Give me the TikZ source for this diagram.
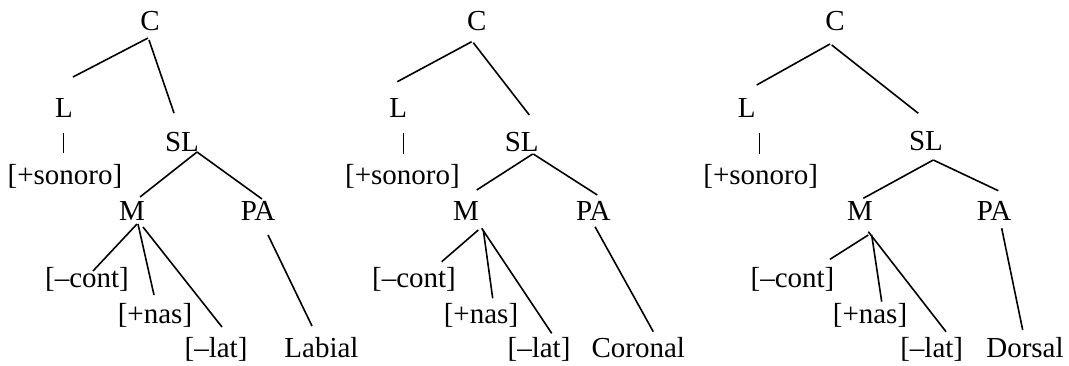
\documentclass[tikz,border=0pt]{standalone}
\usepackage{fontspec}
\setmainfont{Liberation Serif}
\begin{document}
\begin{tikzpicture}[x=1pt,y=-1pt,
  lbl/.style={anchor=base,inner sep=0pt,font=\fontsize{29}{32}\selectfont},
  edge/.style={line width=1.6pt},
  bar/.style={line width=1.0pt}]
\useasboundingbox (0,0) rectangle (1069,365);
% ---------- tree 1 ----------
\node[lbl] (C1) at (150,30) {C};
\node[lbl] (L1) at (64,117) {L};
\node[lbl] (SL1) at (182,151) {SL};
\node[lbl] (S1) at (65,184) {[+sonoro]};
\node[lbl] (M1) at (132,220) {M};
\node[lbl] (PA1) at (258,220) {PA};
\node[lbl] (K1) at (87,287) {[–cont]};
\node[lbl] (N1) at (155,323) {[+nas]};
\node[lbl] (T1) at (216,357) {[–lat]};
\node[lbl] (P1) at (321.5,357) {Labial};
\draw[edge] ([shift={(-2,8)}]C1.base) -- ([shift={(9,-40)}]L1.base);
\draw[edge] ([shift={(-1,10)}]C1.base) -- ([shift={(-8,-38)}]SL1.base);
\draw[bar] ([shift={(-1,16)}]L1.base) -- ([shift={(-2,-31)}]S1.base);
\draw[edge] ([shift={(15,1)}]SL1.base) -- ([shift={(8,-23)}]M1.base);
\draw[edge] ([shift={(15,1)}]SL1.base) -- ([shift={(4,-21)}]PA1.base);
\draw[edge] ([shift={(5,4)}]M1.base) -- ([shift={(6,-16)}]K1.base);
\draw[edge] ([shift={(6,4)}]M1.base) -- ([shift={(-1,-28)}]N1.base);
\draw[edge] ([shift={(11,7)}]M1.base) -- ([shift={(6,-30)}]T1.base);
\draw[edge] ([shift={(10,15)}]PA1.base) -- ([shift={(-9.5,-31)}]P1.base);
% ---------- tree 2 ----------
\node[lbl] (C2) at (476.7,30) {C};
\node[lbl] (L2) at (398.3,117) {L};
\node[lbl] (SL2) at (521.7,151) {SL};
\node[lbl] (S2) at (402.5,184) {[+sonoro]};
\node[lbl] (M2) at (466,220) {M};
\node[lbl] (PA2) at (593.3,220) {PA};
\node[lbl] (K2) at (414,287) {[–cont]};
\node[lbl] (N2) at (481,323) {[+nas]};
\node[lbl] (T2) at (539,357) {[–lat]};
\node[lbl] (P2) at (638.3,357) {Coronal};
\draw[edge] ([shift={(-5,11.7)}]C2.base) -- ([shift={(-1,-35.3)}]L2.base);
\draw[edge] ([shift={(-3.4,12.7)}]C2.base) -- ([shift={(7.6,-36)}]SL2.base);
\draw[bar] ([shift={(5,16)}]L2.base) -- ([shift={(0.8,-30)}]S2.base);
\draw[edge] ([shift={(11,3)}]SL2.base) -- ([shift={(10.7,-30)}]M2.base);
\draw[edge] ([shift={(11.6,3)}]SL2.base) -- ([shift={(4,-25)}]PA2.base);
\draw[edge] ([shift={(12.3,10)}]M2.base) -- ([shift={(27.7,-25.3)}]K2.base);
\draw[edge] ([shift={(17.3,10)}]M2.base) -- ([shift={(11.7,-24.7)}]N2.base);
\draw[edge] ([shift={(15.7,8.3)}]M2.base) -- ([shift={(12.7,-23.7)}]T2.base);
\draw[edge] ([shift={(1.7,6.7)}]PA2.base) -- ([shift={(15,-25.3)}]P2.base);
% ---------- tree 3 ----------
\node[lbl] (C3) at (835,30) {C};
\node[lbl] (L3) at (746.7,117) {L};
\node[lbl] (SL3) at (926,150) {SL};
\node[lbl] (S3) at (760.7,184) {[+sonoro]};
\node[lbl] (M3) at (860,220) {M};
\node[lbl] (PA3) at (994,220) {PA};
\node[lbl] (K3) at (792.5,287) {[–cont]};
\node[lbl] (N3) at (870,323) {[+nas]};
\node[lbl] (T3) at (931.7,357) {[–lat]};
\node[lbl] (P3) at (1025,357) {Dorsal};
\draw[edge] ([shift={(-5,14)}]C3.base) -- ([shift={(10,-32)}]L3.base);
\draw[edge] ([shift={(-3.3,15)}]C3.base) -- ([shift={(-7.7,-36.7)}]SL3.base);
\draw[bar] ([shift={(12.6,16)}]L3.base) -- ([shift={(-1.4,-30)}]S3.base);
\draw[edge] ([shift={(7.3,10)}]SL3.base) -- ([shift={(3.3,-21.7)}]M3.base);
\draw[edge] ([shift={(7.3,10)}]SL3.base) -- ([shift={(4.3,-29.3)}]PA3.base);
\draw[edge] ([shift={(8.3,15)}]M3.base) -- ([shift={(37.5,-27.7)}]K3.base);
\draw[edge] ([shift={(11.7,15)}]M3.base) -- ([shift={(11.7,-21.3)}]N3.base);
\draw[edge] ([shift={(8.3,11.7)}]M3.base) -- ([shift={(14.3,-25.3)}]T3.base);
\draw[edge] ([shift={(7.7,8.3)}]PA3.base) -- ([shift={(-2.3,-27)}]P3.base);
\end{tikzpicture}
\end{document}
